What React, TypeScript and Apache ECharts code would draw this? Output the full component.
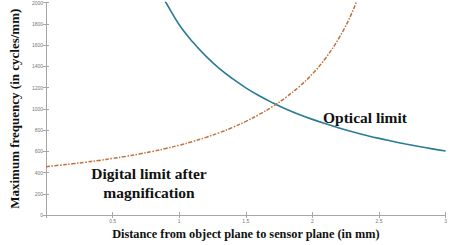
import React, { useEffect, useRef } from "react";
import * as echarts from "echarts";

const opticalX = [0.88, 0.9, 1.0, 1.1, 1.2, 1.3, 1.4, 1.5, 1.6, 1.7, 1.8, 1.9, 2.0, 2.1, 2.2, 2.3, 2.4, 2.5, 2.6, 2.7, 2.8, 2.9, 3.0];
const opticalY = [2045, 2000, 1790, 1630, 1495, 1380, 1283, 1197, 1122, 1057, 998, 946, 900, 858, 819, 784, 751, 721, 694, 668, 644, 622, 603];

const digitalX = [0, 0.1, 0.2, 0.3, 0.4, 0.5, 0.6, 0.7, 0.8, 0.9, 1.0, 1.1, 1.2, 1.3, 1.4, 1.5, 1.6, 1.7, 1.8, 1.9, 2.0, 2.1, 2.2, 2.3, 2.4];
const digitalY = [455, 468, 482, 497, 514, 532, 552, 574, 598, 626, 657, 691, 730, 774, 824, 881, 946, 1020, 1106, 1207, 1328, 1478, 1667, 1912, 2245];

const xTicks = [0.5, 1, 1.5, 2, 2.5, 3];
const yTicks = [0, 200, 400, 600, 800, 1000, 1200, 1400, 1600, 1800, 2000];

const xTitle = "Distance from object plane to sensor plane (in mm)";
const yTitle = "Maximum frequency (in cycles/mm)";
const opticalLabel = "Optical limit";
const digitalLabel = "Digital limit after\nmagnification";

export default function App() {
  const ref = useRef<HTMLDivElement>(null);
  useEffect(() => {
    if (!ref.current) return;
    const chart = echarts.init(ref.current, null, { renderer: "svg" });
    const axisColor = "#a6a6a6";
    const labelStyle = { color: "#777", fontSize: 5, fontFamily: "Liberation Sans" };
    const serifBold = { fontFamily: "Liberation Serif", fontWeight: "bold" as const, color: "#111" };
    chart.setOption({
      animation: false,
      backgroundColor: "#fff",
      grid: { left: 36, right: 2, top: 2, bottom: 23, containLabel: false },
      xAxis: [
        {
          type: "value",
          min: 0,
          max: 3,
          interval: 0.5,
          name: xTitle,
          nameLocation: "middle",
          nameGap: 13,
          nameTextStyle: { ...serifBold, fontSize: 12.3 },
          axisLine: { show: true, lineStyle: { color: axisColor, width: 1 } },
          axisTick: { show: true, inside: true, length: 3, lineStyle: { color: axisColor } },
          axisLabel: {
            ...labelStyle,
            margin: 3,
            formatter: (v: number) => (xTicks.includes(v) ? String(v) : ""),
          },
          splitLine: { show: false },
        },
        {
          type: "value",
          position: "top",
          min: 0,
          max: 3,
          interval: 0.5,
          axisLine: { show: true, lineStyle: { color: axisColor, width: 1 } },
          axisTick: { show: true, inside: true, length: 3, lineStyle: { color: axisColor } },
          axisLabel: { show: false },
          splitLine: { show: false },
        },
      ],
      yAxis: [
        {
          type: "value",
          min: 0,
          max: 2000,
          interval: 200,
          name: yTitle,
          nameLocation: "middle",
          nameGap: 16,
          nameTextStyle: { ...serifBold, fontSize: 13 },
          axisLine: { show: true, lineStyle: { color: axisColor, width: 1 } },
          axisTick: { show: true, inside: true, length: 3, lineStyle: { color: axisColor } },
          axisLabel: {
            ...labelStyle,
            margin: 3,
            formatter: (v: number) => (yTicks.includes(v) ? String(v) : ""),
          },
          splitLine: { show: false },
        },
        {
          type: "value",
          position: "right",
          min: 0,
          max: 2000,
          interval: 200,
          axisLine: { show: true, lineStyle: { color: axisColor, width: 1 } },
          axisTick: { show: true, inside: true, length: 3, lineStyle: { color: axisColor } },
          axisLabel: { show: false },
          splitLine: { show: false },
        },
      ],
      series: [
        {
          type: "line",
          name: "Optical limit",
          data: opticalX.map((x, i) => [x, opticalY[i]]),
          smooth: 0.4,
          showSymbol: false,
          clip: true,
          lineStyle: { color: "#2a7b96", width: 1.6 },
        },
        {
          type: "line",
          name: "Digital limit",
          data: digitalX.map((x, i) => [x, digitalY[i]]),
          smooth: 0.4,
          showSymbol: false,
          clip: true,
          lineStyle: { color: "#c0723e", width: 1.5, type: [4, 1.5, 1.5, 1.5] },
        },
      ],
      graphic: [
        {
          type: "text",
          left: 323,
          top: 109,
          style: { text: opticalLabel, ...serifBold, fontSize: 15.5, fill: "#111" },
        },
        {
          type: "text",
          x: 149,
          y: 164,
          style: {
            text: digitalLabel,
            ...serifBold,
            fontSize: 15.5,
            lineHeight: 19,
            fill: "#111",
            align: "center",
          },
        },
      ],
    });
    return () => chart.dispose();
  }, []);
  return (
    <div
      ref={ref}
      style={{ position: "fixed", left: 0, top: 0, width: 450, height: 245 }}
    />
  );
}
